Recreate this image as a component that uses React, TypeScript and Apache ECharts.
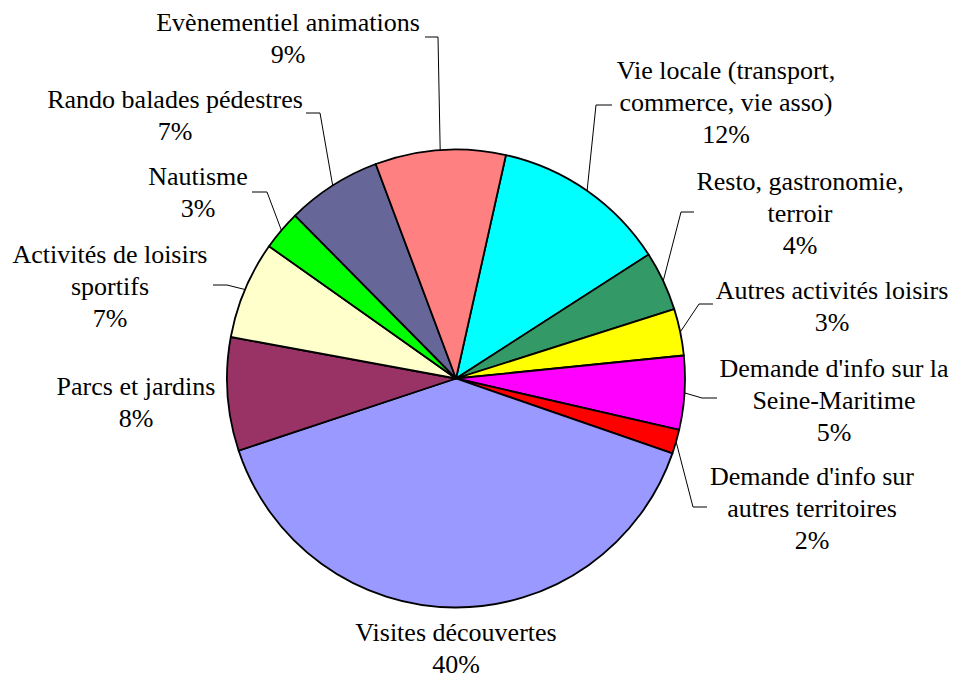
import React, { useEffect, useRef } from "react";
import * as echarts from "echarts";

// ---- Data ----
const categories = [
  "Vie locale (transport,\ncommerce, vie asso)",
  "Resto, gastronomie,\nterroir",
  "Autres activités loisirs",
  "Demande d'info sur la\nSeine-Maritime",
  "Demande d'info sur\nautres territoires",
  "Visites découvertes",
  "Parcs et jardins",
  "Activités de loisirs\nsportifs",
  "Nautisme",
  "Rando balades pédestres",
  "Evènementiel animations",
];
const shares = [12.4, 4.2, 3.3, 5.2, 1.7, 39.6, 8.0, 6.9, 2.8, 6.7, 9.2];
const colors = [
  "#00FFFF",
  "#339966",
  "#FFFF00",
  "#FF00FF",
  "#FF0000",
  "#9999FF",
  "#993366",
  "#FFFFCC",
  "#00FF00",
  "#666699",
  "#FF8080",
];

// ---- Layout (label anchors and leader-line elbows, in pixels) ----
type LabelPlace = { cx: number; cy: number; elbow?: [number, number]; end?: [number, number] };
const labelPlaces: LabelPlace[] = [
  { cx: 726, cy: 102, elbow: [596, 105], end: [612, 105] },
  { cx: 800, cy: 213, elbow: [681, 212], end: [694, 212] },
  { cx: 832, cy: 306, elbow: [699, 304], end: [713, 304] },
  { cx: 834, cy: 400, elbow: [702, 398], end: [717, 398] },
  { cx: 812, cy: 508, elbow: [693, 507], end: [707, 507] },
  { cx: 456, cy: 648 },
  { cx: 136, cy: 402 },
  { cx: 110, cy: 286, elbow: [227, 285], end: [213, 285] },
  { cx: 198, cy: 192, elbow: [267, 192], end: [252, 192] },
  { cx: 175, cy: 115, elbow: [320, 113], end: [306, 113] },
  { cx: 288, cy: 38, elbow: [438, 37], end: [425, 37] },
];

const CENTER: [number, number] = [456, 378.5];
const RADIUS = 229;
const START_ANGLE = 77.4;
const FONT = "Liberation Serif, Times New Roman, serif";

export default function App() {
  const ref = useRef<HTMLDivElement>(null);

  useEffect(() => {
    document.body.style.margin = "0";
    if (!ref.current) return;
    const chart = echarts.init(ref.current, null, { renderer: "svg" });
    const total = shares.reduce((a, b) => a + b, 0);

    const midAngles: number[] = [];
    let acc = 0;
    shares.forEach((v) => {
      const a0 = acc;
      acc += (v / total) * 360;
      midAngles.push((a0 + acc) / 2);
    });

    const data = categories.map((name, i) => ({
      name,
      value: shares[i],
      itemStyle: { color: colors[i] },
      labelLine: { show: !!labelPlaces[i].elbow },
    }));

    chart.setOption({
      animation: false,
      backgroundColor: "#ffffff",
      textStyle: { fontFamily: FONT },
      series: [
        {
          type: "pie",
          center: CENTER,
          radius: RADIUS,
          startAngle: START_ANGLE,
          clockwise: true,
          avoidLabelOverlap: false,
          silent: true,
          emphasis: { disabled: true, scale: false },
          itemStyle: { borderColor: "#000000", borderWidth: 1.8 },
          label: {
            show: true,
            position: "outside",
            color: "#000000",
            fontFamily: FONT,
            fontSize: 26,
            lineHeight: 32,
            align: "center",
            formatter: (p: any) => `${p.name}\n${Math.round((p.value / total) * 100)}%`,
          },
          labelLine: {
            show: true,
            length: 10,
            length2: 10,
            smooth: false,
            lineStyle: { color: "#000000", width: 1 },
          },
          labelLayout: (params: any) => {
            const i = params.dataIndex;
            const L = labelPlaces[i];
            const res: any = {
              x: L.cx,
              y: L.cy,
              align: "center",
              verticalAlign: "middle",
            };
            if (L.elbow && L.end) {
              let start = params.labelLinePoints && params.labelLinePoints[0];
              if (!start) {
                const deg = 90 - START_ANGLE + midAngles[i];
                const rad = (deg * Math.PI) / 180;
                start = [CENTER[0] + RADIUS * Math.sin(rad), CENTER[1] - RADIUS * Math.cos(rad)];
              }
              res.labelLinePoints = [start, L.elbow, L.end];
            }
            return res;
          },
          data,
        },
      ],
    });
    return () => chart.dispose();
  }, []);

  return (
    <div
      ref={ref}
      style={{ position: "absolute", left: 0, top: 0, width: 953, height: 677 }}
    />
  );
}
